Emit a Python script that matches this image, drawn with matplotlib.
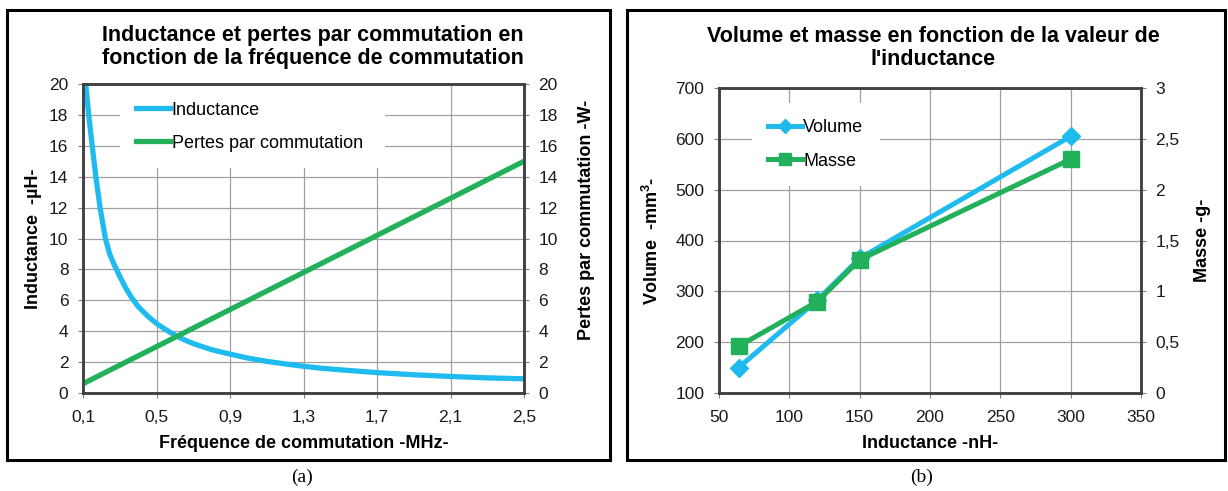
import matplotlib
matplotlib.use("Agg")
import matplotlib.pyplot as plt
from matplotlib.patches import Rectangle
from matplotlib.ticker import FuncFormatter, MultipleLocator

plt.rcParams['font.family'] = ['Liberation Sans', 'DejaVu Sans']

# --- (a) inductance and switching losses vs switching frequency ---
freq_mhz = [0.115, 0.131, 0.15, 0.17, 0.193, 0.222, 0.245, 0.27, 0.3, 0.33, 0.36, 0.4,
            0.45, 0.5, 0.55, 0.6, 0.65, 0.7, 0.75, 0.8, 0.9, 1.0, 1.1, 1.2, 1.3,
            1.4, 1.5, 1.7, 1.9, 2.1, 2.3, 2.5]
induct_uh = [20.0, 18.0, 16.0, 14.0, 12.0, 10.0, 9.0, 8.3, 7.55, 6.85, 6.25, 5.6,
             5.0, 4.5, 4.1, 3.75, 3.45, 3.2, 3.0, 2.8, 2.52, 2.25, 2.05, 1.88, 1.73,
             1.6, 1.5, 1.32, 1.18, 1.07, 0.98, 0.92]
freq_loss = [0.1, 2.5]
loss_w = [0.6, 15.0]
freq_ticks = [0.1, 0.5, 0.9, 1.3, 1.7, 2.1, 2.5]

# --- (b) volume and mass vs inductance ---
induct_nh = [64, 120, 150, 300]
volume_mm3 = [150, 283, 365, 605]
masse_g = [0.46, 0.90, 1.31, 2.30]

CYAN = '#1fbbee'
GREEN = '#22b15a'
GRID = '#a0a0a0'
SPINE = '#404040'

W, H = 1228, 491
fig = plt.figure(figsize=(W / 100, H / 100), dpi=100)


def comma(v, pos):
    return f"{v:g}".replace('.', ',')


def style(ax, twin):
    for a in (ax, twin):
        for sp in a.spines.values():
            sp.set_color(SPINE)
            sp.set_linewidth(1.8)
        a.tick_params(length=3.5, width=0.8, color='#808080', labelsize=12.5,
                      labelcolor='#1a1a1a')
    ax.tick_params(axis='y', pad=7)
    ax.tick_params(axis='x', pad=9)
    twin.tick_params(axis='y', pad=7)
    ax.grid(True, color=GRID, linewidth=0.9)
    ax.set_axisbelow(True)


def frame(x0, y0, x1, y1):
    fig.add_artist(Rectangle((x0 / W, 1 - y1 / H), (x1 - x0) / W, (y1 - y0) / H,
                             transform=fig.transFigure, fill=False,
                             edgecolor='black', linewidth=2.2))


def white_legend(ax, handles, anchor, spacing):
    leg = ax.legend(handles=handles, loc='upper left', bbox_to_anchor=anchor,
                    mode='expand', fontsize=13, frameon=True, fancybox=False,
                    borderpad=0.9, handlelength=1.85, handletextpad=0.1,
                    labelspacing=spacing, borderaxespad=0, markerscale=0.7)
    leg.get_frame().set_edgecolor('none')
    leg.get_frame().set_facecolor('white')
    leg.get_frame().set_alpha(1)
    return leg


# ================= panel (a) =================
frame(7, 10, 610, 460)
ax1 = fig.add_axes([83 / W, 1 - 393 / H, 441 / W, 309 / H])
ax1r = ax1.twinx()
l1, = ax1.plot(freq_mhz, induct_uh, color=CYAN, linewidth=3.8, label='Inductance',
               solid_joinstyle='round')
l2, = ax1r.plot(freq_loss, loss_w, color=GREEN, linewidth=3.8,
                label='Pertes par commutation')
ax1.set_xlim(0.1, 2.5)
ax1.set_ylim(0, 20)
ax1r.set_ylim(0, 20)
ax1.set_xticks(freq_ticks)
ax1.yaxis.set_major_locator(MultipleLocator(2))
ax1r.yaxis.set_major_locator(MultipleLocator(2))
ax1.xaxis.set_major_formatter(FuncFormatter(comma))
style(ax1, ax1r)
ax1.set_xlabel('Fréquence de commutation -MHz-', fontsize=13, fontweight='bold',
               labelpad=7)
ax1.set_ylabel('Inductance  -µH-', fontsize=13, fontweight='bold', labelpad=5)
ax1r.set_ylabel('Pertes par commutation -W-', fontsize=13, fontweight='bold')
ax1r.yaxis.set_label_coords(1.122, 0.56)
white_legend(ax1r, [l1, l2], (0.084, 0.5, 0.60, 0.495), 0.87)
fig.text(313 / W, 1 - 47 / H,
         'Inductance et pertes par commutation en\nfonction de la fréquence de commutation',
         ha='center', va='center', fontsize=15.5, fontweight='bold', linespacing=1.15)
fig.text(302 / W, 1 - 477 / H, '(a)', ha='center', va='center', fontsize=14,
         family='Liberation Serif')

# ================= panel (b) =================
frame(627, 10, 1225, 460)
ax2 = fig.add_axes([719 / W, 1 - 393 / H, 422 / W, 305 / H])
ax2r = ax2.twinx()
v, = ax2.plot(induct_nh, volume_mm3, color=CYAN, linewidth=3.6, marker='D',
              markersize=9.5, label='Volume')
m, = ax2r.plot(induct_nh, masse_g, color=GREEN, linewidth=3.6, marker='s',
               markersize=12, label='Masse')
ax2.set_xlim(50, 350)
ax2.set_ylim(100, 700)
ax2r.set_ylim(0, 3)
ax2.xaxis.set_major_locator(MultipleLocator(50))
ax2.yaxis.set_major_locator(MultipleLocator(100))
ax2r.yaxis.set_major_locator(MultipleLocator(0.5))
ax2r.yaxis.set_major_formatter(FuncFormatter(comma))
style(ax2, ax2r)
ax2.set_xlabel('Inductance -nH-', fontsize=13, fontweight='bold', labelpad=7)
ax2.set_ylabel('Volume  -mm$^{\\mathregular{3}}$-', fontsize=13, fontweight='bold',
               labelpad=10)
ax2r.set_ylabel('Masse -g-', fontsize=13, fontweight='bold', labelpad=10)
white_legend(ax2r, [v, m], (0.078, 0.5, 0.303, 0.452), 0.93)
fig.text(933 / W, 1 - 48 / H,
         "Volume et masse en fonction de la valeur de\nl'inductance",
         ha='center', va='center', fontsize=15.5, fontweight='bold', linespacing=1.15)
fig.text(922 / W, 1 - 477 / H, '(b)', ha='center', va='center', fontsize=14,
         family='Liberation Serif')

fig.savefig('out.png', dpi=100, facecolor='white')
